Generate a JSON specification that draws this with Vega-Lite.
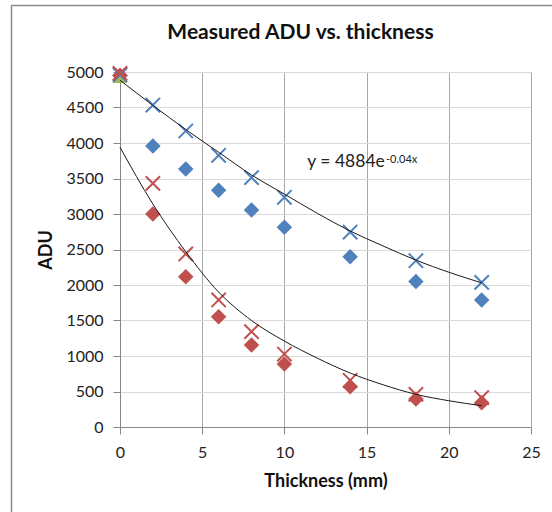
{
  "$schema": "https://vega.github.io/schema/vega-lite/v6.json",
  "width": 411,
  "height": 355,
  "autosize": "none",
  "padding": {"left": 120, "top": 72, "right": 21, "bottom": 85},
  "background": "white",
  "title": {
    "text": "Measured ADU vs. thickness",
    "font": "Lato",
    "fontSize": 21,
    "fontWeight": "bold",
    "color": "#111111",
    "anchor": "middle",
    "dx": -25,
    "baseline": "alphabetic",
    "offset": -55.5
  },
  "config": {
    "view": {"stroke": null},
    "axis": {
      "labelFont": "Lato",
      "labelFontSize": 16,
      "labelColor": "#222222",
      "labelFlush": false,
      "labelOverlap": false,
      "format": "d",
      "titleFont": "Lato",
      "titleFontSize": 18,
      "titleFontWeight": "bold",
      "titleColor": "#111111",
      "domainColor": "#868686",
      "tickColor": "#868686",
      "tickSize": 7,
      "labelPadding": 10,
      "gridWidth": 1
    },
    "axisX": {
      "gridColor": "#a6a6a6",
      "titleY": 59,
      "titleBaseline": "alphabetic"
    },
    "axisY": {
      "gridColor": "#d9d9d9",
      "titleX": -74,
      "titleY": 177.5,
      "titleAngle": -90,
      "titleAlign": "center",
      "titleBaseline": "middle"
    }
  },
  "datasets": {
    "pts": [
      {"x": 0, "y": 4950, "series": "A"},
      {"x": 2, "y": 3958, "series": "A"},
      {"x": 4, "y": 3634, "series": "A"},
      {"x": 6, "y": 3335, "series": "A"},
      {"x": 8, "y": 3056, "series": "A"},
      {"x": 10, "y": 2812, "series": "A"},
      {"x": 14, "y": 2398, "series": "A"},
      {"x": 18, "y": 2050, "series": "A"},
      {"x": 22, "y": 1789, "series": "A"},
      {"x": 0, "y": 4950, "series": "C"},
      {"x": 2, "y": 3000, "series": "C"},
      {"x": 4, "y": 2117, "series": "C"},
      {"x": 6, "y": 1554, "series": "C"},
      {"x": 8, "y": 1155, "series": "C"},
      {"x": 10, "y": 887, "series": "C"},
      {"x": 14, "y": 568, "series": "C"},
      {"x": 18, "y": 394, "series": "C"},
      {"x": 22, "y": 342, "series": "C"},
      {"x": 0, "y": 4930, "series": "E"},
      {"x": 0, "y": 4960, "series": "B"},
      {"x": 2, "y": 4535, "series": "B"},
      {"x": 4, "y": 4169, "series": "B"},
      {"x": 6, "y": 3827, "series": "B"},
      {"x": 8, "y": 3512, "series": "B"},
      {"x": 10, "y": 3235, "series": "B"},
      {"x": 14, "y": 2746, "series": "B"},
      {"x": 18, "y": 2342, "series": "B"},
      {"x": 22, "y": 2037, "series": "B"},
      {"x": 0, "y": 4980, "series": "D"},
      {"x": 2, "y": 3431, "series": "D"},
      {"x": 4, "y": 2437, "series": "D"},
      {"x": 6, "y": 1789, "series": "D"},
      {"x": 8, "y": 1343, "series": "D"},
      {"x": 10, "y": 1028, "series": "D"},
      {"x": 14, "y": 658, "series": "D"},
      {"x": 18, "y": 460, "series": "D"},
      {"x": 22, "y": 413, "series": "D"}
    ],
    "trend": [
      {"x": 0, "y": 4884, "fit": "upper"},
      {"x": 2, "y": 4530, "fit": "upper"},
      {"x": 4, "y": 4190, "fit": "upper"},
      {"x": 6, "y": 3870, "fit": "upper"},
      {"x": 8, "y": 3550, "fit": "upper"},
      {"x": 10, "y": 3280, "fit": "upper"},
      {"x": 12, "y": 3010, "fit": "upper"},
      {"x": 14, "y": 2760, "fit": "upper"},
      {"x": 16, "y": 2550, "fit": "upper"},
      {"x": 18, "y": 2350, "fit": "upper"},
      {"x": 20, "y": 2180, "fit": "upper"},
      {"x": 22, "y": 2030, "fit": "upper"},
      {"x": 0, "y": 3940, "fit": "lower"},
      {"x": 2, "y": 3140, "fit": "lower"},
      {"x": 4, "y": 2470, "fit": "lower"},
      {"x": 6, "y": 1900, "fit": "lower"},
      {"x": 8, "y": 1500, "fit": "lower"},
      {"x": 10, "y": 1210, "fit": "lower"},
      {"x": 12, "y": 970, "fit": "lower"},
      {"x": 14, "y": 760, "fit": "lower"},
      {"x": 16, "y": 595, "fit": "lower"},
      {"x": 18, "y": 460, "fit": "lower"},
      {"x": 20, "y": 370, "fit": "lower"},
      {"x": 22, "y": 300, "fit": "lower"}
    ],
    "eq": [
      {"part": "main", "label": "y = 4884e"},
      {"part": "sup", "label": "-0.04x"}
    ]
  },
  "data": {"name": "pts"},
  "layer": [
    {
      "transform": [{"filter": "datum.series === 'A' || datum.series === 'C'"}],
      "mark": {"type": "point", "shape": "diamond", "filled": true, "size": 240, "opacity": 1},
      "encoding": {
        "x": {"field": "x", "type": "quantitative", "scale": {"domain": [0, 25], "nice": false, "zero": false}, "axis": {"title": "Thickness (mm)", "values": [0, 5, 10, 15, 20, 25]}},
        "y": {"field": "y", "type": "quantitative", "scale": {"domain": [0, 5000], "nice": false, "zero": false}, "axis": {"title": "ADU", "values": [0, 500, 1000, 1500, 2000, 2500, 3000, 3500, 4000, 4500, 5000]}},
        "color": {
          "field": "series",
          "type": "nominal",
          "scale": {"domain": ["A", "B", "C", "D", "E"], "range": ["#4f81bd", "#4f81bd", "#c0504d", "#c0504d", "#9bbb59"]},
          "legend": null
        }
      }
    },
    {
      "mark": {"type": "rect", "filled": false, "stroke": "#8c8c8c", "strokeWidth": 1.5, "fill": null},
      "encoding": {
        "x": {"datum": -6.6, "type": "quantitative", "axis": {"title": "Thickness (mm)", "values": [0, 5, 10, 15, 20, 25]}},
        "x2": {"datum": 40},
        "y": {"datum": 5937, "type": "quantitative", "axis": {"title": "ADU", "values": [0, 500, 1000, 1500, 2000, 2500, 3000, 3500, 4000, 4500, 5000]}},
        "y2": {"datum": -3000}
      },
      "transform": [{"filter": "datum.series === 'E'"}]
    },
    {
      "transform": [{"filter": "datum.series === 'E'"}],
      "mark": {"type": "point", "shape": "triangle-up", "filled": true, "size": 190, "opacity": 1},
      "encoding": {
        "x": {"field": "x", "type": "quantitative", "axis": {"title": "Thickness (mm)", "values": [0, 5, 10, 15, 20, 25]}},
        "y": {"field": "y", "type": "quantitative", "axis": {"title": "ADU", "values": [0, 500, 1000, 1500, 2000, 2500, 3000, 3500, 4000, 4500, 5000]}},
        "color": {"field": "series", "type": "nominal", "legend": null}
      }
    },
    {
      "transform": [{"filter": "datum.series === 'B' || datum.series === 'D'"}],
      "mark": {"type": "point", "shape": "M-1,-1L1,1M-1,1L1,-1", "filled": false, "size": 205, "strokeWidth": 2, "opacity": 1},
      "encoding": {
        "x": {"field": "x", "type": "quantitative", "axis": {"title": "Thickness (mm)", "values": [0, 5, 10, 15, 20, 25]}},
        "y": {"field": "y", "type": "quantitative", "axis": {"title": "ADU", "values": [0, 500, 1000, 1500, 2000, 2500, 3000, 3500, 4000, 4500, 5000]}},
        "color": {"field": "series", "type": "nominal", "legend": null}
      }
    },
    {
      "data": {"name": "trend"},
      "mark": {"type": "line", "color": "#1a1a1a", "strokeWidth": 1, "interpolate": "monotone"},
      "encoding": {
        "x": {"field": "x", "type": "quantitative", "axis": {"title": "Thickness (mm)", "values": [0, 5, 10, 15, 20, 25]}},
        "y": {"field": "y", "type": "quantitative", "axis": {"title": "ADU", "values": [0, 500, 1000, 1500, 2000, 2500, 3000, 3500, 4000, 4500, 5000]}},
        "detail": {"field": "fit", "type": "nominal"}
      }
    },
    {
      "data": {"name": "eq"},
      "transform": [{"filter": "datum.part === 'main'"}],
      "mark": {"type": "text", "font": "Lato", "fontSize": 17.5, "align": "left", "baseline": "alphabetic", "color": "#222222"},
      "encoding": {
        "x": {"datum": 11.39, "type": "quantitative", "axis": {"title": "Thickness (mm)", "values": [0, 5, 10, 15, 20, 25]}},
        "y": {"datum": 3658, "type": "quantitative", "axis": {"title": "ADU", "values": [0, 500, 1000, 1500, 2000, 2500, 3000, 3500, 4000, 4500, 5000]}},
        "text": {"field": "label", "type": "nominal"}
      }
    },
    {
      "data": {"name": "eq"},
      "transform": [{"filter": "datum.part === 'sup'"}],
      "mark": {"type": "text", "font": "Lato", "fontSize": 11, "align": "left", "baseline": "alphabetic", "color": "#222222"},
      "encoding": {
        "x": {"datum": 16.18, "type": "quantitative", "axis": {"title": "Thickness (mm)", "values": [0, 5, 10, 15, 20, 25]}},
        "y": {"datum": 3723, "type": "quantitative", "axis": {"title": "ADU", "values": [0, 500, 1000, 1500, 2000, 2500, 3000, 3500, 4000, 4500, 5000]}},
        "text": {"field": "label", "type": "nominal"}
      }
    }
  ]
}
